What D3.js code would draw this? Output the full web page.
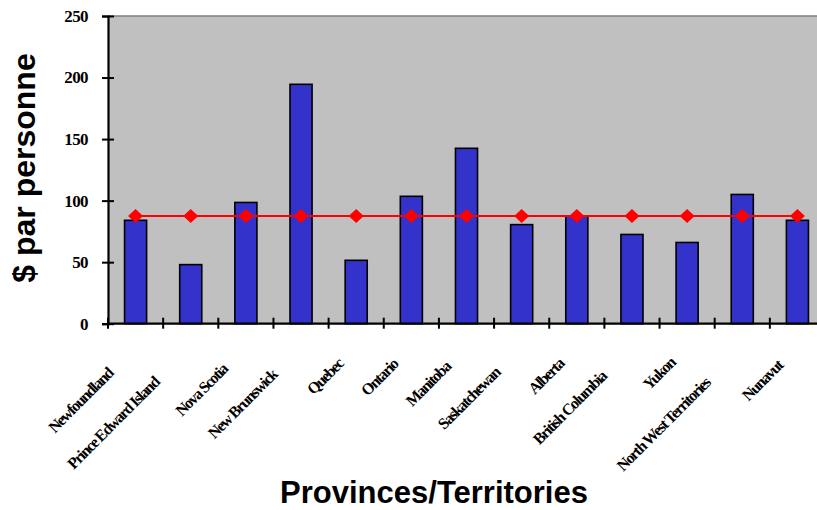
<!DOCTYPE html>
<html>
<head>
<meta charset="utf-8">
<script src="https://cdn.jsdelivr.net/npm/d3@7"></script>
<style>
  body { margin: 0; background: #fff; }
  svg { display: block; }
</style>
</head>
<body>
<svg id="chart" width="817" height="510"></svg>
<script>
var provinces = ["Newfoundland", "Prince Edward Island", "Nova Scotia", "New Brunswick", "Quebec", "Ontario",
    "Manitoba", "Saskatchewan", "Alberta", "British Columbia", "Yukon", "North West Territories", "Nunavut"];
var perPerson = [84, 48, 98.5, 194.5, 51.5, 103.5, 142.5, 80.5, 87.5, 72.5, 66, 105, 84];
var average = [87.5, 87.5, 87.5, 87.5, 87.5, 87.5, 87.5, 87.5, 87.5, 87.5, 87.5, 87.5, 87.5];
var yTicks = [0, 50, 100, 150, 200, 250];

var svg = d3.select("#chart");
var plotLeft = 108, plotTop = 16, plotBottom = 323.7, plotRight = 825;

var x = d3.scaleBand().domain(provinces).range([plotLeft, plotRight]).padding(0);
var y = d3.scaleLinear().domain([0, 250]).range([plotBottom, plotTop]);
var step = x.step();

// plot background
svg.append("rect")
    .attr("x", plotLeft).attr("y", plotTop)
    .attr("width", plotRight - plotLeft).attr("height", plotBottom - plotTop)
    .attr("fill", "#c0c0c0");
svg.append("line")
    .attr("x1", plotLeft).attr("x2", plotRight).attr("y1", plotTop).attr("y2", plotTop)
    .attr("stroke", "#808080").attr("stroke-width", 1.3);

// bars
svg.selectAll("rect.bar").data(perPerson).enter().append("rect")
    .attr("class", "bar")
    .attr("x", function(d, i) { return x(provinces[i]) + step * 0.3; })
    .attr("width", step * 0.4)
    .attr("y", function(d) { return y(d); })
    .attr("height", function(d) { return y(0) - y(d); })
    .attr("fill", "#3333cc")
    .attr("stroke", "#000").attr("stroke-width", 1.6);

// y axis
var yAxis = svg.append("g")
    .attr("transform", "translate(" + plotLeft + ",0)")
    .call(d3.axisLeft(y).tickValues(yTicks).tickSize(6).tickPadding(14));
yAxis.select(".domain").attr("stroke", "#000").attr("stroke-width", 2.2);
yAxis.selectAll(".tick line").attr("x1", -6).attr("x2", 6).attr("stroke-width", 2);
yAxis.selectAll(".tick text")
    .attr("font-family", "'Liberation Serif', 'Times New Roman', serif")
    .attr("font-weight", "bold").attr("font-size", 17)
    .attr("letter-spacing", -0.6)
    .attr("fill", "#000");

// x axis
svg.append("line")
    .attr("x1", plotLeft).attr("x2", plotRight).attr("y1", plotBottom).attr("y2", plotBottom)
    .attr("stroke", "#000").attr("stroke-width", 2.2);
var bounds = provinces.map(function(p) { return x(p); }).concat([x(provinces[provinces.length - 1]) + step]);
svg.selectAll("line.xtick").data(bounds).enter().append("line")
    .attr("class", "xtick")
    .attr("x1", function(d) { return d; }).attr("x2", function(d) { return d; })
    .attr("y1", plotBottom - 6).attr("y2", plotBottom + 5)
    .attr("stroke", "#000").attr("stroke-width", 2);

var labels = svg.selectAll("text.xlab").data(provinces).enter().append("text")
    .attr("class", "xlab")
    .attr("font-family", "'Liberation Serif', 'Times New Roman', serif")
    .attr("font-weight", "bold").attr("font-size", 16)
    .attr("letter-spacing", -1.4)
    .attr("text-anchor", "end")
    .text(function(d) { return d; });
labels.each(function(d) {
    var t = d3.select(this);
    var len = this.getComputedTextLength();
    t.attr("transform", "translate(" + (x(d) + step / 2 - 2) + ",355) rotate(-45)")
     .attr("x", -0.33 * len);
});

// average line
var line = d3.line()
    .x(function(d, i) { return x(provinces[i]) + step / 2; })
    .y(function(d) { return y(d); });
svg.append("path").datum(average)
    .attr("d", line)
    .attr("fill", "none").attr("stroke", "#ff0000").attr("stroke-width", 2);
svg.selectAll("path.marker").data(average).enter().append("path")
    .attr("class", "marker")
    .attr("d", "M0,-7L7.5,0L0,7L-7.5,0Z")
    .attr("transform", function(d, i) { return "translate(" + (x(provinces[i]) + step / 2) + "," + y(d) + ")"; })
    .attr("fill", "#ff0000");

// titles
svg.append("text")
    .attr("transform", "translate(35,168) rotate(-90)")
    .attr("text-anchor", "middle")
    .attr("font-family", "'Liberation Sans', Arial, sans-serif")
    .attr("font-weight", "bold").attr("font-size", 32)
    .text("$ par personne");
svg.append("text")
    .attr("x", 434).attr("y", 503)
    .attr("text-anchor", "middle")
    .attr("font-family", "'Liberation Sans', Arial, sans-serif")
    .attr("font-weight", "bold").attr("font-size", 31)
    .text("Provinces/Territories");
</script>
</body>
</html>
